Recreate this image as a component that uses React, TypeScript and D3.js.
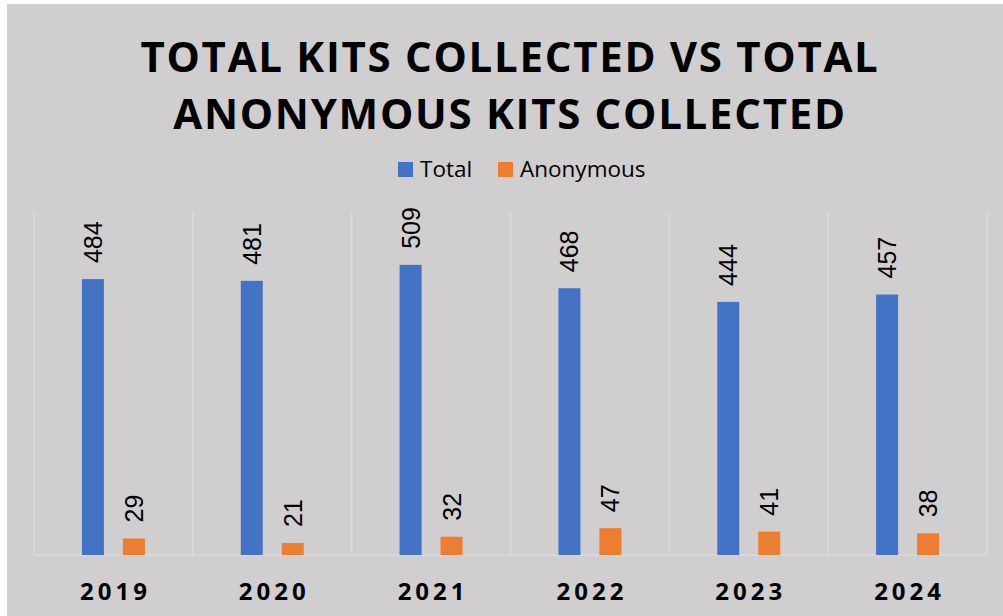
import { useEffect, useRef } from "react";
import * as d3 from "d3";

const years = ["2019", "2020", "2021", "2022", "2023", "2024"];
const totalKits = [484, 481, 509, 468, 444, 457];
const anonymousKits = [29, 21, 32, 47, 41, 38];
const seriesNames = ["Total", "Anonymous"];
const titleLines = ["TOTAL KITS COLLECTED VS TOTAL", "ANONYMOUS KITS COLLECTED"];

const W = 1003;
const H = 616;

export default function App() {
  const svgRef = useRef<SVGSVGElement>(null);

  useEffect(() => {
    if (!svgRef.current) return;
    const svg = d3.select(svgRef.current);
    svg.selectAll("*").remove();

    const colors = ["#4472C4", "#ED7D31"];
    const plot = { left: 34, right: 987, top: 213, bottom: 555 };

    svg.append("rect")
      .attr("x", 7).attr("y", 4)
      .attr("width", W - 7).attr("height", H - 4)
      .attr("fill", "#d0cecf");

    // title
    svg.append("g")
      .selectAll("text")
      .data(titleLines)
      .enter()
      .append("text")
      .attr("x", 510)
      .attr("y", (_, i) => 72 + i * 57)
      .attr("text-anchor", "middle")
      .style("font-family", "'Open Sans', sans-serif")
      .style("font-weight", "700")
      .style("font-size", "42px")
      .style("letter-spacing", "1.7px")
      .style("fill", "#000")
      .text(d => d);

    // legend
    const legendX = [398, 498];
    const legend = svg.append("g");
    seriesNames.forEach((name, i) => {
      legend.append("rect")
        .attr("x", legendX[i]).attr("y", 162)
        .attr("width", 15).attr("height", 15)
        .attr("fill", colors[i]);
      legend.append("text")
        .attr("x", legendX[i] + 22).attr("y", 177)
        .style("font-family", "'Open Sans', sans-serif")
        .style("font-size", "22.5px")
        .style("fill", "#000")
        .text(name);
    });

    const x0 = d3.scaleBand()
      .domain(years)
      .range([plot.left, plot.right])
      .paddingInner(0)
      .paddingOuter(0);

    const x1 = d3.scaleBand()
      .domain(seriesNames)
      .range([0, x0.bandwidth()])
      .paddingInner(0.463)
      .paddingOuter(1.17);

    const y = d3.scaleLinear()
      .domain([0, 600])
      .range([plot.bottom, plot.top]);

    const g = svg.append("g");

    // vertical category separators
    const bounds = years.map(yr => x0(yr)!).concat([plot.right]);
    g.selectAll(".sep")
      .data(bounds)
      .enter()
      .append("line")
      .attr("x1", d => d).attr("x2", d => d)
      .attr("y1", plot.top).attr("y2", plot.bottom)
      .style("stroke", "#dddbdb")
      .style("stroke-width", 1.5);

    g.append("line")
      .attr("x1", plot.left).attr("x2", plot.right)
      .attr("y1", plot.bottom).attr("y2", plot.bottom)
      .style("stroke", "#dddbdb")
      .style("stroke-width", 1.5);

    const series = [totalKits, anonymousKits];
    series.forEach((vals, si) => {
      const name = seriesNames[si];
      const bw = x1.bandwidth();
      g.selectAll(".bar-" + si)
        .data(vals)
        .enter()
        .append("rect")
        .attr("x", (_, i) => x0(years[i])! + x1(name)!)
        .attr("y", d => y(d))
        .attr("width", bw)
        .attr("height", d => plot.bottom - y(d))
        .style("fill", colors[si]);

      g.selectAll(".lab-" + si)
        .data(vals)
        .enter()
        .append("text")
        .attr("transform", (d, i) => {
          const cx = x0(years[i])! + x1(name)! + bw / 2;
          return `translate(${cx},${y(d) - 16}) rotate(-90)`;
        })
        .attr("dy", "0.36em")
        .attr("text-anchor", "start")
        .style("font-family", "'Liberation Sans', Arial, sans-serif")
        .style("font-size", "25px")
        .style("fill", "#000")
        .text(d => d);
    });

    // x axis labels
    g.selectAll(".xlab")
      .data(years)
      .enter()
      .append("text")
      .attr("x", d => x0(d)! + x0.bandwidth() / 2 + 2)
      .attr("y", 600)
      .attr("text-anchor", "middle")
      .style("font-family", "'Open Sans', sans-serif")
      .style("font-weight", "700")
      .style("font-size", "24px")
      .style("letter-spacing", "4px")
      .style("fill", "#000")
      .text(d => d);
  }, []);

  return (
    <svg
      ref={svgRef}
      width={W}
      height={H}
      style={{ position: "absolute", left: 0, top: 0, background: "#fff" }}
    />
  );
}
